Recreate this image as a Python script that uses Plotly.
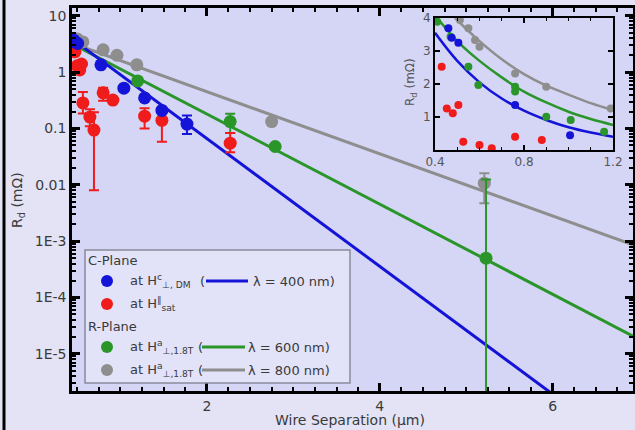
import plotly.graph_objects as go

# ---------------- main plot data ----------------
blue_x = [0.46, 0.48, 0.505, 0.775, 1.04, 1.28, 1.48, 1.77]
blue_y = [3.7, 3.4, 3.25, 1.35, 0.52, 0.35, 0.21, 0.12]
blue_ep = [None, None, None, None, None, None, None, 0.05]
blue_em = [None, None, None, None, None, None, None, 0.04]

red_x = [0.474, 0.50, 0.53, 0.55, 0.566, 0.647, 0.694, 0.80, 0.913, 1.28, 1.48, 2.27]
red_y = [2.3, 1.3, 1.1, 1.4, 0.285, 0.16, 0.094, 0.43, 0.32, 0.166, 0.14, 0.055]
red_ep = [None, None, None, None, 0.16, 0.06, 0.10, 0.10, None, 0.064, 0.07, 0.028]
red_em = [None, None, None, None, 0.10, 0.05, 0.086, 0.12, None, 0.066, 0.082, 0.017]

gray_x = [0.50, 0.566, 0.80, 0.96, 1.19, 2.75, 5.21]
gray_y = [3.9, 3.45, 2.5, 2.0, 1.35, 0.133, 0.0107]
gray_ep = [None, None, None, None, None, None, 0.0053]
gray_em = [None, None, None, None, None, None, 0.006]

green_x = [1.2, 2.27, 2.79, 5.23]
green_y = [0.7, 0.133, 0.048, 5.0e-4]
green_ep = [None, 0.05, None, 0.012]
green_em = [None, 0.05, None, 0.0004999]

# fitted lines (straight on log axis) : end points
blue_fit_x = [0.44, 6.3]
blue_fit_y = [3.9, 8.8e-7]
green_fit_x = [0.44, 6.93]
green_fit_y = [3.2, 2.06e-5]
gray_fit_x = [0.44, 6.93]
gray_fit_y = [3.27, 8.6e-4]

y_tickvals = [1e-5, 1e-4, 1e-3, 0.01, 0.1, 1, 10]
y_ticktext = ["1E-5", "1E-4", "1E-3", "0.01", "0.1", "1", "10"]
x_tickvals = [2, 4, 6]

# ---------------- inset data ----------------
in_gray_x = [0.512, 0.55, 0.58, 0.60, 0.76, 0.90, 1.19]
in_gray_y = [3.94, 3.69, 3.33, 3.13, 2.32, 1.92, 1.26]
in_green_x = [0.41, 0.47, 0.55, 0.595, 0.76, 0.76, 0.90, 1.01, 1.16]
in_green_y = [3.89, 3.43, 2.52, 1.97, 1.92, 1.77, 1.01, 0.91, 0.55]
in_blue_x = [0.46, 0.475, 0.505, 0.76, 1.007]
in_blue_y = [3.69, 3.4, 3.25, 1.36, 0.45]
in_red_x = [0.43, 0.453, 0.48, 0.505, 0.527, 0.60, 0.655, 0.76, 0.88]
in_red_y = [2.52, 1.26, 1.11, 1.36, 0.25, 0.15, 0.05, 0.40, 0.30]

in_blue_fit_x = [0.40, 0.50, 0.60, 0.70, 0.80, 0.90, 1.00, 1.10, 1.20]
in_blue_fit_y = [3.55, 2.70, 2.05, 1.56, 1.19, 0.91, 0.69, 0.53, 0.40]
in_green_fit_x = [0.41, 0.50, 0.60, 0.70, 0.80, 0.90, 1.00, 1.10, 1.20]
in_green_fit_y = [4.0, 3.3, 2.7, 2.2, 1.77, 1.44, 1.16, 0.94, 0.76]
in_gray_fit_x = [0.49, 0.60, 0.70, 0.80, 0.90, 1.00, 1.10, 1.20]
in_gray_fit_y = [4.0, 3.3, 2.75, 2.3, 1.95, 1.68, 1.42, 1.21]

BLUE = "#1414d8"
RED = "#f01c1c"
GREEN = "#2a962a"
GRAY = "#8e8e8e"
TXT = "#3a3a3a"
FONT = "DejaVu Sans, Verdana, sans-serif"

fig = go.Figure()


def err(arr_p, arr_m, color):
    return dict(type="data", symmetric=False, array=arr_p, arrayminus=arr_m,
                color=color, thickness=2, width=5)


# fit lines
fig.add_trace(go.Scatter(x=gray_fit_x, y=gray_fit_y, mode="lines",
                         line=dict(color=GRAY, width=3), showlegend=False))
fig.add_trace(go.Scatter(x=green_fit_x, y=green_fit_y, mode="lines",
                         line=dict(color=GREEN, width=3), showlegend=False))
fig.add_trace(go.Scatter(x=blue_fit_x, y=blue_fit_y, mode="lines",
                         line=dict(color=BLUE, width=3), showlegend=False))

# points
fig.add_trace(go.Scatter(x=gray_x, y=gray_y, mode="markers",
                         marker=dict(color=GRAY, size=13),
                         error_y=err(gray_ep, gray_em, GRAY), showlegend=False))
fig.add_trace(go.Scatter(x=green_x, y=green_y, mode="markers",
                         marker=dict(color=GREEN, size=13),
                         error_y=err(green_ep, green_em, GREEN), showlegend=False))
fig.add_trace(go.Scatter(x=red_x, y=red_y, mode="markers",
                         marker=dict(color=RED, size=13),
                         error_y=err(red_ep, red_em, RED), showlegend=False))
fig.add_trace(go.Scatter(x=blue_x, y=blue_y, mode="markers",
                         marker=dict(color=BLUE, size=13),
                         error_y=err(blue_ep, blue_em, BLUE), showlegend=False))

# inset traces
for fx, fy, c in [(in_gray_fit_x, in_gray_fit_y, GRAY),
                  (in_green_fit_x, in_green_fit_y, GREEN),
                  (in_blue_fit_x, in_blue_fit_y, BLUE)]:
    fig.add_trace(go.Scatter(x=fx, y=fy, mode="lines", line=dict(color=c, width=2.5, shape="spline"),
                             xaxis="x2", yaxis="y2", showlegend=False))
for px_, py_, c in [(in_gray_x, in_gray_y, GRAY), (in_green_x, in_green_y, GREEN),
                    (in_blue_x, in_blue_y, BLUE), (in_red_x, in_red_y, RED)]:
    fig.add_trace(go.Scatter(x=px_, y=py_, mode="markers", marker=dict(color=c, size=8),
                             xaxis="x2", yaxis="y2", showlegend=False))

# ---------------- layout ----------------
L, R, T, B = 72, 2, 8, 39
W, H = 635, 430
PW, PH = W - L - R, H - T - B


def px2x(p):
    return (p - L) / PW


def py2y(p):
    return (H - B - p) / PH


axis_common = dict(showline=True, linecolor="black", linewidth=2.5, mirror="ticks",
                   ticks="inside", ticklen=8, tickwidth=2.5, tickcolor="black",
                   showgrid=False, zeroline=False, automargin=False,
                   tickfont=dict(family=FONT, size=14, color=TXT))

inset_x0, inset_x1 = px2x(435), px2x(613)
inset_y0, inset_y1 = py2y(150), py2y(18)

fig.update_layout(
    width=W, height=H,
    margin=dict(l=L, r=R, t=T, b=B, autoexpand=False),
    paper_bgcolor="#e3e3f5",
    plot_bgcolor="#d5d5f5",
    showlegend=False,
    xaxis=dict(range=[0.44, 6.93], tickvals=x_tickvals, domain=[0, 1],
               minor=dict(ticks="inside", ticklen=4, tickwidth=1.5, tickcolor="black", dtick=0.25),
               **axis_common),
    yaxis=dict(type="log", range=[-5.66, 1.14], tickvals=y_tickvals, ticktext=y_ticktext,
               domain=[0, 1],
               minor=dict(ticks="inside", ticklen=4, tickwidth=1.5, tickcolor="black", dtick="D1"),
               **axis_common),
    xaxis2=dict(domain=[inset_x0, inset_x1], anchor="y2", range=[0.4, 1.2],
                tickvals=[0.4, 0.8, 1.2], ticktext=["0.4", "0.8", "1.2"],
                showline=True, linecolor="black", linewidth=2, mirror="ticks",
                ticks="inside", ticklen=5, tickwidth=2, tickcolor="black",
                minor=dict(ticks="inside", ticklen=3, tickwidth=1.2, tickcolor="black", dtick=0.1),
                showgrid=False, zeroline=False, automargin=False,
                tickfont=dict(family=FONT, size=12, color="#555")),
    yaxis2=dict(domain=[inset_y0, inset_y1], anchor="x2", range=[0, 4],
                tickvals=[1, 2, 3, 4],
                showline=True, linecolor="black", linewidth=2, mirror="ticks",
                ticks="inside", ticklen=5, tickwidth=2, tickcolor="black",
                showgrid=False, zeroline=False, automargin=False,
                tickfont=dict(family=FONT, size=12, color="#555")),
)

ann = []
shapes = []

# axis titles
ann.append(dict(x=px2x(350), y=py2y(420), xref="paper", yref="paper",
                xanchor="center", yanchor="middle",
                text="Wire Separation (μm)", showarrow=False,
                font=dict(family=FONT, size=14, color=TXT)))
ann.append(dict(x=px2x(18), y=py2y(200), xref="paper", yref="paper",
                xanchor="center", yanchor="middle",
                text="R<sub>d</sub> (mΩ)", showarrow=False, textangle=-90,
                font=dict(family=FONT, size=14, color=TXT)))
ann.append(dict(x=px2x(411), y=py2y(82), xref="paper", yref="paper",
                xanchor="center", yanchor="middle",
                text="R<sub>d</sub> (mΩ)", showarrow=False, textangle=-90,
                font=dict(family=FONT, size=12, color="#555")))

# left frame line of the picture
shapes.append(dict(type="line", xref="paper", yref="paper",
                   x0=px2x(4), x1=px2x(4), y0=py2y(0), y1=py2y(430),
                   line=dict(color="black", width=3)))

# manual legend box
shapes.append(dict(type="rect", xref="paper", yref="paper",
                   x0=px2x(85), x1=px2x(350), y0=py2y(383), y1=py2y(250),
                   line=dict(color="#8a8a9a", width=1.5), fillcolor="#e2e2f8", layer="above"))

lf = dict(family=FONT, size=13, color=TXT)


def text(px, py, s, anchor="left"):
    ann.append(dict(x=px2x(px), y=py2y(py), xref="paper", yref="paper", text=s,
                    showarrow=False, xanchor=anchor, yanchor="middle", font=lf))


def dot(px, py, c):
    r = 6
    shapes.append(dict(type="circle", xref="paper", yref="paper",
                       x0=px2x(px - r), x1=px2x(px + r), y0=py2y(py + r), y1=py2y(py - r),
                       fillcolor=c, line=dict(color=c, width=0), layer="above"))


def seg(p0, p1, py, c):
    shapes.append(dict(type="line", xref="paper", yref="paper",
                       x0=px2x(p0), x1=px2x(p1), y0=py2y(py), y1=py2y(py),
                       line=dict(color=c, width=3), layer="above"))


text(86, 260, "C-Plane")
dot(107, 281, BLUE)
text(128, 281, "at H<sup>c</sup><sub>⊥, DM</sub>")
text(198, 281, "(")
seg(206, 248, 281, BLUE)
text(251, 281, "λ = 400 nm)")
dot(107, 304, RED)
text(128, 304, "at H<sup>∥</sup><sub>sat</sub>")
text(86, 326, "R-Plane")
dot(107, 347, GREEN)
text(128, 347, "at H<sup>a</sup><sub>⊥,1.8T</sub>")
text(196, 347, "(")
seg(202, 245, 347, GREEN)
text(246, 347, "λ = 600 nm)")
dot(107, 370, GRAY)
text(128, 370, "at H<sup>a</sup><sub>⊥,1.8T</sub>")
text(196, 370, "(")
seg(202, 245, 370, GRAY)
text(246, 370, "λ = 800 nm)")

fig.update_layout(annotations=ann, shapes=shapes)

fig.write_html("out.html")
